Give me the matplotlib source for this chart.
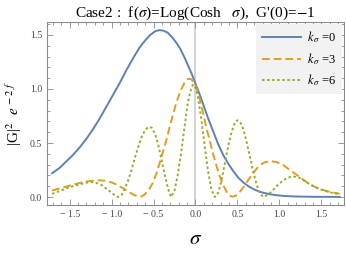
import numpy as np
import matplotlib.pyplot as plt
from matplotlib.ticker import MultipleLocator, FuncFormatter

plt.rcParams['font.family'] = ['Liberation Serif', 'DejaVu Serif']
plt.rcParams['mathtext.fontset'] = 'stix'

# k_sigma = 0
s0 = [-1.71, -1.62, -1.54, -1.46, -1.38, -1.30, -1.22, -1.14, -1.06, -0.98, -0.90, -0.82,
      -0.74, -0.67, -0.60, -0.54, -0.48, -0.43, -0.38, -0.33, -0.28, -0.23, -0.18, -0.13,
      -0.09, -0.045, 0.00, 0.05, 0.10, 0.15, 0.21, 0.27, 0.33, 0.39, 0.45, 0.51, 0.57,
      0.63, 0.70, 0.78, 0.86, 0.95, 1.05, 1.20, 1.40, 1.72]
v0 = [0.22, 0.27, 0.33, 0.39, 0.46, 0.54, 0.63, 0.73, 0.84, 0.95, 1.06, 1.18,
      1.29, 1.38, 1.45, 1.50, 1.535, 1.545, 1.54, 1.52, 1.48, 1.43, 1.37, 1.29,
      1.22, 1.14, 1.05, 0.95, 0.84, 0.73, 0.61, 0.49, 0.39, 0.31, 0.24, 0.18, 0.135,
      0.10, 0.07, 0.045, 0.03, 0.018, 0.01, 0.005, 0.002, 0.001]

# k_sigma = 3
s3 = [-1.71, -1.62, -1.54, -1.46, -1.38, -1.30, -1.22, -1.14, -1.07, -1.00, -0.93, -0.86,
      -0.80, -0.74, -0.69, -0.65, -0.61, -0.56, -0.51, -0.46, -0.41, -0.35, -0.29, -0.23,
      -0.18, -0.13, -0.09, -0.05, 0.00, 0.05, 0.09, 0.13, 0.17, 0.21, 0.25, 0.29, 0.33,
      0.37, 0.41, 0.44, 0.48, 0.53, 0.58, 0.64, 0.70, 0.76, 0.82, 0.89, 0.96, 1.03,
      1.10, 1.18, 1.26, 1.34, 1.42, 1.50, 1.60, 1.72]
v3 = [0.06, 0.08, 0.097, 0.115, 0.13, 0.143, 0.152, 0.155, 0.15, 0.135, 0.11, 0.08,
      0.05, 0.022, 0.006, 0.004, 0.02, 0.06, 0.13, 0.23, 0.36, 0.52, 0.70, 0.87,
      0.98, 1.06, 1.095, 1.09, 1.04, 0.91, 0.78, 0.64, 0.52, 0.40, 0.29, 0.19, 0.11,
      0.05, 0.012, 0.003, 0.012, 0.05, 0.10, 0.17, 0.235, 0.29, 0.32, 0.333, 0.325, 0.305,
      0.265, 0.22, 0.175, 0.13, 0.095, 0.07, 0.048, 0.03]

# k_sigma = 6
s6 = [-1.71, -1.62, -1.54, -1.46, -1.38, -1.30, -1.24, -1.18, -1.12, -1.06, -1.00, -0.96,
      -0.92, -0.88, -0.84, -0.80, -0.76, -0.72, -0.68, -0.64, -0.60, -0.56, -0.52, -0.48,
      -0.44, -0.40, -0.36, -0.32, -0.29, -0.25, -0.21, -0.17, -0.13, -0.09, -0.05, -0.03,
      0.00, 0.03, 0.07, 0.11, 0.15, 0.19, 0.23, 0.27, 0.31, 0.35, 0.39, 0.43, 0.47,
      0.50, 0.53, 0.57, 0.61, 0.65, 0.69, 0.73, 0.77, 0.81, 0.86, 0.92, 0.98, 1.04,
      1.10, 1.17, 1.24, 1.31, 1.38, 1.45, 1.52, 1.60, 1.72]
v6 = [0.03, 0.055, 0.08, 0.10, 0.118, 0.133, 0.138, 0.13, 0.11, 0.075, 0.04, 0.015,
      0.0, 0.02, 0.08, 0.16, 0.26, 0.37, 0.47, 0.56, 0.62, 0.65, 0.64, 0.58,
      0.47, 0.33, 0.18, 0.06, 0.0, 0.06, 0.21, 0.42, 0.65, 0.88, 1.01, 1.04,
      1.02, 0.92, 0.72, 0.47, 0.24, 0.07, 0.0, 0.04, 0.15, 0.31, 0.47, 0.60, 0.69,
      0.71, 0.70, 0.63, 0.51, 0.37, 0.23, 0.11, 0.03, 0.0, 0.02, 0.06, 0.11, 0.15,
      0.18, 0.19, 0.178, 0.145, 0.11, 0.083, 0.062, 0.044, 0.025]

blue = '#5e81b5'
orange = '#e19c24'
green = '#8fb032'
frame_col = '#8c8c8c'

fig = plt.figure(figsize=(3.46, 2.59), dpi=100)
ax = fig.add_axes([0.136, 0.208, 0.858, 0.707])

ax.axvline(0, color='#c8c8c8', lw=1.1, zorder=0)
ax.plot(s0, v0, color=blue, lw=1.4, label=r'$k_{\,\sigma}$ =0')
ax.plot(s3, v3, color=orange, lw=1.4, dashes=(4, 2), label=r'$k_{\,\sigma}$ =3')
ax.plot(s6, v6, color=green, lw=1.4, dashes=(1.3, 1.3), label=r'$k_{\,\sigma}$ =6')

ax.set_xlim(-1.77, 1.77)
ax.set_ylim(-0.075, 1.62)

ax.xaxis.set_major_locator(MultipleLocator(0.5))
ax.xaxis.set_minor_locator(MultipleLocator(0.1))
ax.yaxis.set_major_locator(MultipleLocator(0.5))
ax.yaxis.set_minor_locator(MultipleLocator(0.1))

def fmt(v, pos):
    s = '%.1f' % abs(v)
    return ('\u2212 ' + s) if v < -1e-9 else s

ax.xaxis.set_major_formatter(FuncFormatter(fmt))
ax.yaxis.set_major_formatter(FuncFormatter(fmt))
ax.tick_params(which='both', direction='in', top=True, right=True,
               color=frame_col, labelsize=7, labelcolor='#444444', width=0.6)
ax.tick_params(which='major', length=4)
ax.tick_params(which='minor', length=2)
for sp in ax.spines.values():
    sp.set_color(frame_col)
    sp.set_linewidth(0.8)

ax.set_title(r"Case2 :  f($\sigma$)=Log(Cosh   $\sigma$),  G'(0)=$-$1",
             fontsize=11, pad=2)
ax.set_ylabel(r'|G|$^{2}$  $e^{\,-2\ f}$', fontsize=11, labelpad=4)
ax.set_xlabel(r'$\sigma$', fontsize=15, labelpad=8)

leg = ax.legend(loc='upper right', fontsize=9, frameon=True, fancybox=False,
                borderaxespad=0.15, handlelength=3.1, handletextpad=0.5,
                labelspacing=0.45, borderpad=0.45)
leg.get_frame().set_facecolor('#f2f2f2')
leg.get_frame().set_edgecolor('none')
leg.get_frame().set_alpha(1)

fig.savefig('out.png', dpi=100)
